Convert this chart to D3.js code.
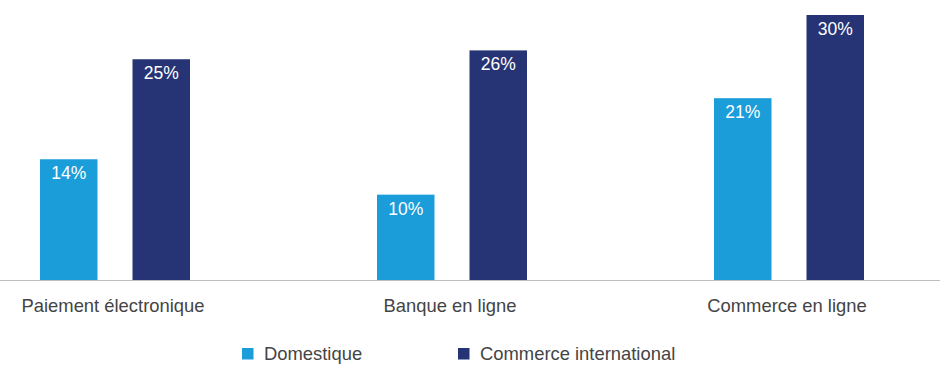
<!DOCTYPE html>
<html>
<head>
<meta charset="utf-8">
<script src="https://cdn.jsdelivr.net/npm/d3@7"></script>
<style>
	body { margin: 0; background: #fff; }
	svg { display: block; font-family: "Liberation Sans", Arial, sans-serif; }
	.cat-label { fill: #444; font-size: 18.4px; }
	.val-label { fill: #fff; font-size: 17.5px; }
	.legend-label { fill: #444; font-size: 18.4px; }
</style>
</head>
<body>
<svg id="chart" width="940" height="376" viewBox="0 0 940 376"></svg>
<script>

// data
const categories = ["Paiement électronique", "Banque en ligne", "Commerce en ligne"];
const series = ["Domestique", "Commerce international"];
const domestique = [13.7, 9.7, 20.6];
const international = [25, 26, 30];
const series_colors = ["#1a9dd9", "#263476"];

const svg = d3.select("#chart");

const baseline = 280.5;

const x_group = d3.scaleBand()
	.domain(categories)
	.range([40, 864])
	.paddingInner(187 / 337);

const x_bar = d3.scaleBand()
	.domain(series)
	.range([0, x_group.bandwidth()])
	.paddingInner(35 / 92.5);

const y = d3.scaleLinear()
	.domain([0, 30])
	.range([baseline, 15]);

const color = d3.scaleOrdinal()
	.domain(series)
	.range(series_colors);

const rows = categories.map((c, i) => ({
	category: c,
	values: [
		{ series: series[0], value: domestique[i] },
		{ series: series[1], value: international[i] }
	]
}));

const groups = svg.selectAll("g.group")
	.data(rows)
	.enter()
	.append("g")
		.attr("class", "group")
		.attr("transform", d => "translate(" + x_group(d.category) + ",0)");

groups.selectAll("rect")
	.data(d => d.values)
	.enter()
	.append("rect")
		.attr("x", d => x_bar(d.series))
		.attr("y", d => y(d.value))
		.attr("width", x_bar.bandwidth())
		.attr("height", d => baseline - y(d.value))
		.style("fill", d => color(d.series));

groups.selectAll("text.val-label")
	.data(d => d.values)
	.enter()
	.append("text")
		.attr("class", "val-label")
		.attr("text-anchor", "middle")
		.attr("x", d => x_bar(d.series) + x_bar.bandwidth() / 2)
		.attr("y", d => y(d.value) + 20)
		.text(d => d3.format(".0f")(d.value) + "%");

// baseline
svg.append("line")
	.attr("x1", 0)
	.attr("x2", 940)
	.attr("y1", baseline)
	.attr("y2", baseline)
	.style("stroke", "#bdbdbd")
	.style("stroke-width", 1);

// category labels
groups.append("text")
	.attr("class", "cat-label")
	.attr("text-anchor", "middle")
	.attr("x", x_group.bandwidth() / 2 - 2)
	.attr("y", 312)
	.text(d => d.category);

// legend
const legend_x = [242, 458];
const legend = svg.selectAll("g.legend")
	.data(series)
	.enter()
	.append("g")
		.attr("class", "legend")
		.attr("transform", (d, i) => "translate(" + legend_x[i] + ",348)");

legend.append("rect")
	.attr("width", 11.5)
	.attr("height", 11.5)
	.style("fill", d => color(d));

legend.append("text")
	.attr("class", "legend-label")
	.attr("x", 22)
	.attr("y", 11.5)
	.text(d => d);

</script>
</body>
</html>
